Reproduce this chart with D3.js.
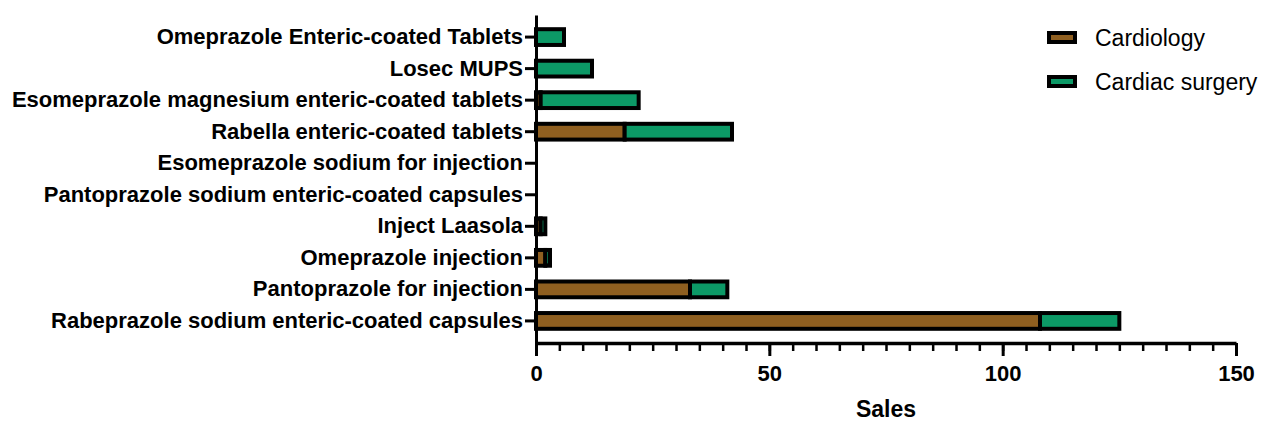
<!DOCTYPE html>
<html>
<head>
<meta charset="utf-8">
<script src="https://cdn.jsdelivr.net/npm/d3@7"></script>
<style>
  body { margin: 0; background: #fff; }
  text { font-family: "Liberation Sans", Arial, sans-serif; }
</style>
</head>
<body>
<script>
// Data (top row first)
const drugs = [
    "Omeprazole Enteric-coated Tablets",
    "Losec MUPS",
    "Esomeprazole magnesium enteric-coated tablets",
    "Rabella enteric-coated tablets",
    "Esomeprazole sodium for injection",
    "Pantoprazole sodium enteric-coated capsules",
    "Inject Laasola",
    "Omeprazole injection",
    "Pantoprazole for injection",
    "Rabeprazole sodium enteric-coated capsules"
];
const cardiology     = [0, 0, 1, 19, 0, 0, 1, 2, 33, 108];
const cardiacSurgery = [6, 12, 21, 23, 0, 0, 1, 1, 8, 17];
const seriesNames = ["Cardiology", "Cardiac surgery"];
const seriesColors = ["#8f5f20", "#0c9966"];
const xTicks = [0, 50, 100, 150];

const width = 1263;
const height = 423;

const svg = d3.select("body").append("svg")
    .attr("width", width)
    .attr("height", height);

const x = d3.scaleLinear()
    .domain([0, 150])
    .range([536, 1236]);

const y = d3.scaleBand()
    .domain(drugs)
    .range([15, 343])
    .paddingInner(0.5)
    .paddingOuter(0.45);

// stacked rows
const rows = drugs.map((d, i) => ({ drug: d, Cardiology: cardiology[i], "Cardiac surgery": cardiacSurgery[i] }));
const stacked = d3.stack().keys(seriesNames)(rows);

svg.append("g")
    .selectAll("g")
    .data(stacked)
    .enter().append("g")
        .attr("fill", (d, i) => seriesColors[i])
    .selectAll("rect")
    .data(d => d.filter(s => s[1] > s[0]))
    .enter().append("rect")
        .attr("x", s => x(s[0]))
        .attr("y", s => y(s.data.drug))
        .attr("width", s => x(s[1]) - x(s[0]))
        .attr("height", y.bandwidth())
        .attr("stroke", "#000")
        .attr("stroke-width", 4);

// y axis
const yAxis = svg.append("g")
    .attr("transform", "translate(536,0)")
    .call(d3.axisLeft(y).tickSize(11).tickPadding(2).tickSizeOuter(0));
yAxis.select(".domain").attr("stroke-width", 3);
yAxis.selectAll(".tick line").attr("stroke-width", 3);
yAxis.selectAll(".tick text")
    .attr("font-size", 22)
    .attr("font-weight", "bold")
    .attr("fill", "#000");

// x axis with minor ticks every 5
const xg = svg.append("g").attr("transform", "translate(0,343)");
xg.call(d3.axisBottom(x).tickValues(d3.range(0, 151, 5)).tickSize(8).tickFormat("").tickSizeOuter(0))
    .selectAll(".tick line").attr("stroke-width", 2.5);
xg.select(".domain").attr("stroke-width", 3.5);
const xMajor = svg.append("g").attr("transform", "translate(0,343)")
    .call(d3.axisBottom(x).tickValues(xTicks).tickSize(13).tickPadding(9).tickSizeOuter(0));
xMajor.select(".domain").remove();
xMajor.selectAll(".tick line").attr("stroke-width", 3);
xMajor.selectAll(".tick text")
    .attr("font-size", 22)
    .attr("font-weight", "bold")
    .attr("fill", "#000");

svg.append("text")
    .attr("x", x(75))
    .attr("y", 417)
    .attr("text-anchor", "middle")
    .attr("font-size", 23)
    .attr("font-weight", "bold")
    .text("Sales");

// legend
const legend = svg.append("g")
    .selectAll("g")
    .data(seriesNames)
    .enter().append("g")
        .attr("transform", (d, i) => `translate(1049,${33 + i * 44})`);
legend.append("rect")
    .attr("width", 26)
    .attr("height", 9)
    .attr("fill", (d, i) => seriesColors[i])
    .attr("stroke", "#000")
    .attr("stroke-width", 4);
legend.append("text")
    .attr("x", 46)
    .attr("y", 13)
    .attr("font-size", 23)
    .text(d => d);
</script>
</body>
</html>
